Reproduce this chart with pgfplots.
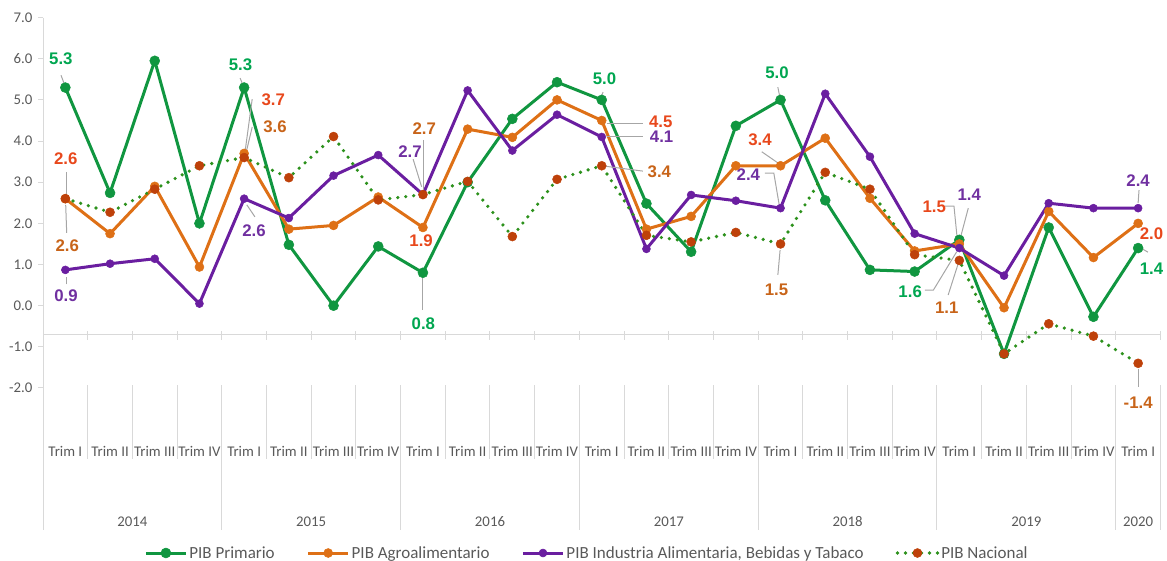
\documentclass[border=0pt]{standalone}
\usepackage{fontspec}
\setmainfont{Carlito}
\newfontfamily\arialfont{Liberation Sans}
\usepackage{pgfplots}
\usepackage{pgfplotstable}
\pgfplotsset{compat=1.18}
\definecolor{cgreen}{RGB}{16,150,64}
\definecolor{corange}{RGB}{222,112,22}
\definecolor{cpurple}{RGB}{106,30,160}
\definecolor{cnac}{RGB}{190,65,10}
\definecolor{cdot}{RGB}{44,145,28}
\definecolor{lgreen}{RGB}{0,166,80}
\definecolor{lred}{RGB}{232,72,28}
\definecolor{lbrown}{RGB}{200,100,25}
\definecolor{lpurple}{RGB}{112,48,160}
\definecolor{txtgray}{RGB}{89,89,89}
\definecolor{axgray}{RGB}{217,217,217}
\definecolor{leadgray}{RGB}{166,166,166}
\newcommand\tickfont{\fontsize{14.8pt}{16pt}\selectfont}
\newcommand\legfont{\fontsize{17pt}{19pt}\selectfont}
\newcommand\labfont{\arialfont\bfseries\fontsize{16.8pt}{18pt}\selectfont}

\pgfplotstableread{
x prim agro ind nac
0 5.30 2.60 0.87 2.60
1 2.74 1.75 1.02 2.27
2 5.95 2.90 1.14 2.83
3 2.00 0.94 0.05 3.40
4 5.30 3.70 2.60 3.60
5 1.48 1.86 2.13 3.11
6 0.00 1.95 3.16 4.11
7 1.44 2.64 3.66 2.57
8 0.80 1.90 2.70 2.70
9 3.00 4.29 5.23 3.02
10 4.54 4.09 3.77 1.68
11 5.43 5.00 4.64 3.07
12 5.00 4.50 4.10 3.40
13 2.48 1.86 1.38 1.71
14 1.31 2.17 2.69 1.55
15 4.37 3.40 2.55 1.78
16 5.00 3.40 2.37 1.50
17 2.56 4.07 5.15 3.24
18 0.87 2.61 3.62 2.83
19 0.83 1.33 1.75 1.24
20 1.60 1.50 1.40 1.10
21 -1.17 -0.05 0.73 -1.17
22 1.90 2.29 2.49 -0.44
23 -0.27 1.17 2.37 -0.74
24 1.40 2.00 2.37 -1.40
}\data

\begin{document}
\begin{tikzpicture}
\useasboundingbox (0,0) rectangle (1167pt,561pt);
\begin{axis}[
  at={(43pt,173pt)}, anchor=south west,
  scale only axis, width=1117.5pt, height=370.4pt,
  xmin=-0.5, xmax=24.5, ymin=-2, ymax=7,
  clip=false,
  axis lines*=left,
  axis line style={draw=none},
  ytick={-2,-1,0,1,2,3,4,5,6,7},
  yticklabels={-2.0,-1.0,0.0,1.0,2.0,3.0,4.0,5.0,6.0,7.0},
  ytick pos=left,
  tick align=outside,
  major tick length=5pt,
  y tick style={axgray, line width=1pt},
  yticklabel style={font=\tickfont, text=txtgray, anchor=east, xshift=-2pt},
  xtick={0,...,24},
  xticklabels={Trim I,Trim II,Trim III,Trim IV,Trim I,Trim II,Trim III,Trim IV,Trim I,Trim II,Trim III,Trim IV,Trim I,Trim II,Trim III,Trim IV,Trim I,Trim II,Trim III,Trim IV,Trim I,Trim II,Trim III,Trim IV,Trim I},
  x tick style={draw=none},
  xticklabel style={font=\tickfont, text=txtgray, anchor=center, yshift=-58.5pt},
  legend columns=4,
  legend style={at={(0.4868,-0.4455)}, anchor=center, draw=none, fill=none,
    font=\legfont, text=txtgray,
    /tikz/every even column/.append style={column sep=30pt}},
  legend cell align=left,
  legend image code/.code={\draw[mark repeat=2,mark phase=2,#1] plot coordinates {(0pt,0pt) (20pt,0pt) (40pt,0pt)};},
]
% axis decorations
\draw[axgray, line width=1pt] (axis cs:-0.5,7) -- (axis cs:-0.5,-5.45);
\draw[axgray, line width=1pt] (axis cs:-0.5,-0.71) -- (axis cs:24.5,-0.71);
\pgfplotsinvokeforeach{0.5,1.5,2.5,3.5,4.5,5.5,6.5,7.5,8.5,9.5,10.5,11.5,12.5,13.5,14.5,15.5,16.5,17.5,18.5,19.5,20.5,21.5,22.5,23.5,24.5}{
  \draw[axgray, line width=1pt] (axis cs:#1,-0.62) -- (axis cs:#1,-0.83);
}
\pgfplotsinvokeforeach{0.5,1.5,2.5,4.5,5.5,6.5,8.5,9.5,10.5,12.5,13.5,14.5,16.5,17.5,18.5,20.5,21.5,22.5}{
  \draw[axgray, line width=1pt] (axis cs:#1,-1.93) -- (axis cs:#1,-3.72);
}
\pgfplotsinvokeforeach{3.5,7.5,11.5,15.5,19.5,23.5,24.5}{
  \draw[axgray, line width=1pt] (axis cs:#1,-1.93) -- (axis cs:#1,-5.45);
}
\node[font=\tickfont, text=txtgray] at (axis cs:1.5,-5.24) {2014};
\node[font=\tickfont, text=txtgray] at (axis cs:5.5,-5.24) {2015};
\node[font=\tickfont, text=txtgray] at (axis cs:9.5,-5.24) {2016};
\node[font=\tickfont, text=txtgray] at (axis cs:13.5,-5.24) {2017};
\node[font=\tickfont, text=txtgray] at (axis cs:17.5,-5.24) {2018};
\node[font=\tickfont, text=txtgray] at (axis cs:21.5,-5.24) {2019};
\node[font=\tickfont, text=txtgray] at (axis cs:24,-5.24) {2020};

\addplot[color=cgreen, line width=3pt, mark=*, mark size=5pt, mark options={solid, fill=cgreen, draw=cgreen, line width=0.5pt}] table[x=x, y=prim] {\data};
\addlegendentry{PIB Primario}
\addplot[color=corange, line width=3pt, mark=*, mark size=4.5pt, mark options={solid, fill=corange, draw=corange, line width=0.5pt}] table[x=x, y=agro] {\data};
\addlegendentry{PIB Agroalimentario}
\addplot[color=cpurple, line width=3pt, mark=*, mark size=4pt, mark options={solid, fill=cpurple, draw=cpurple, line width=0.5pt}] table[x=x, y=ind] {\data};
\addlegendentry{PIB Industria Alimentaria, Bebidas y Tabaco}
\addplot[color=cdot, line width=3.6pt, line cap=round, dash pattern=on 0pt off 8pt, mark=*, mark size=4.5pt, mark options={solid, fill=cnac, draw=cnac, line width=0.5pt}] table[x=x, y=nac] {\data};
\addlegendentry{PIB Nacional}

% leader lines
\tikzset{leader/.style={leadgray, line width=1pt}}
\draw[leader] (axis cs:-0.097,5.60) -- (axis cs:-0.008,5.34);
\draw[leader] (axis cs:0.015,3.25) -- (axis cs:0.015,2.67);
\draw[leader] (axis cs:0.03,1.77) -- (axis cs:0.008,2.45);
\draw[leader] (axis cs:0.015,0.52) -- (axis cs:0.015,0.70);
\draw[leader] (axis cs:3.91,5.53) -- (axis cs:4.0,5.29);
\draw[leader] (axis cs:4.18,5.02) -- (axis cs:4.02,3.74);
\draw[leader] (axis cs:4.18,4.34) -- (axis cs:4.02,3.61);
\draw[leader] (axis cs:4.24,2.16) -- (axis cs:4.06,2.45);
\draw[leader] (axis cs:7.78,3.56) -- (axis cs:7.97,2.89);
\draw[leader] (axis cs:8.02,4.03) -- (axis cs:8.02,2.81);
\draw[leader] (axis cs:8.0,-0.10) -- (axis cs:8.0,0.70);
\draw[leader] (axis cs:12.03,5.19) -- (axis cs:11.96,5.0);
\draw[leader] (axis cs:12.11,4.43) -- (axis cs:12.93,4.43);
\draw[leader] (axis cs:12.12,4.10) -- (axis cs:12.92,4.10);
\draw[leader] (axis cs:12.07,3.39) -- (axis cs:12.92,3.27);
\draw[leader] (axis cs:15.58,3.74) -- (axis cs:15.94,3.47);
\draw[leader] (axis cs:15.65,3.22) -- (axis cs:15.85,3.22) -- (axis cs:15.97,2.45);
\draw[leader] (axis cs:15.94,5.31) -- (axis cs:15.99,5.04);
\draw[leader] (axis cs:15.94,0.75) -- (axis cs:15.99,1.35);
\draw[leader] (axis cs:19.68,2.42) -- (axis cs:19.88,2.42) -- (axis cs:19.96,1.55);
\draw[leader] (axis cs:20.20,2.37) -- (axis cs:19.98,1.47);
\draw[leader] (axis cs:19.23,0.38) -- (axis cs:19.42,0.38) -- (axis cs:19.94,1.31);
\draw[leader] (axis cs:19.75,0.26) -- (axis cs:19.98,1.04);
\draw[leader] (axis cs:24.02,2.81) -- (axis cs:24.0,2.50);
\draw[leader] (axis cs:24.11,1.37) -- (axis cs:24.22,1.30);
\draw[leader] (axis cs:24.0,-1.55) -- (axis cs:24.0,-1.97);

% data labels
\node[text=lgreen, font=\labfont] at (axis cs:-0.10,5.99) {5.3};
\node[text=lred, font=\labfont] at (axis cs:0.008,3.56) {2.6};
\node[text=lbrown, font=\labfont] at (axis cs:0.044,1.46) {2.6};
\node[text=lpurple, font=\labfont] at (axis cs:0.015,0.24) {0.9};
\node[text=lgreen, font=\labfont] at (axis cs:3.92,5.85) {5.3};
\node[text=lred, font=\labfont] at (axis cs:4.65,5.0) {3.7};
\node[text=lbrown, font=\labfont] at (axis cs:4.69,4.35) {3.6};
\node[text=lpurple, font=\labfont] at (axis cs:4.22,1.82) {2.6};
\node[text=lpurple, font=\labfont] at (axis cs:7.71,3.74) {2.7};
\node[text=lbrown, font=\labfont] at (axis cs:8.03,4.31) {2.7};
\node[text=lred, font=\labfont] at (axis cs:7.96,1.57) {1.9};
\node[text=lgreen, font=\labfont] at (axis cs:8.01,-0.43) {0.8};
\node[text=lgreen, font=\labfont] at (axis cs:12.06,5.51) {5.0};
\node[text=lred, font=\labfont] at (axis cs:13.32,4.46) {4.5};
\node[text=lpurple, font=\labfont] at (axis cs:13.34,4.11) {4.1};
\node[text=lbrown, font=\labfont] at (axis cs:13.29,3.26) {3.4};
\node[text=lred, font=\labfont] at (axis cs:15.54,4.03) {3.4};
\node[text=lpurple, font=\labfont] at (axis cs:15.28,3.18) {2.4};
\node[text=lgreen, font=\labfont] at (axis cs:15.92,5.65) {5.0};
\node[text=lbrown, font=\labfont] at (axis cs:15.91,0.38) {1.5};
\node[text=lred, font=\labfont] at (axis cs:19.44,2.41) {1.5};
\node[text=lpurple, font=\labfont] at (axis cs:20.22,2.69) {1.4};
\node[text=lgreen, font=\labfont] at (axis cs:18.90,0.34) {1.6};
\node[text=lbrown, font=\labfont] at (axis cs:19.72,-0.06) {1.1};
\node[text=lpurple, font=\labfont] at (axis cs:24.0,3.05) {2.4};
\node[text=lred, font=\labfont] at (axis cs:24.30,1.76) {2.0};
\node[text=lgreen, font=\labfont] at (axis cs:24.30,0.91) {1.4};
\node[text=lbrown, font=\labfont] at (axis cs:24.0,-2.35) {-1.4};
\end{axis}
\end{tikzpicture}
\end{document}
